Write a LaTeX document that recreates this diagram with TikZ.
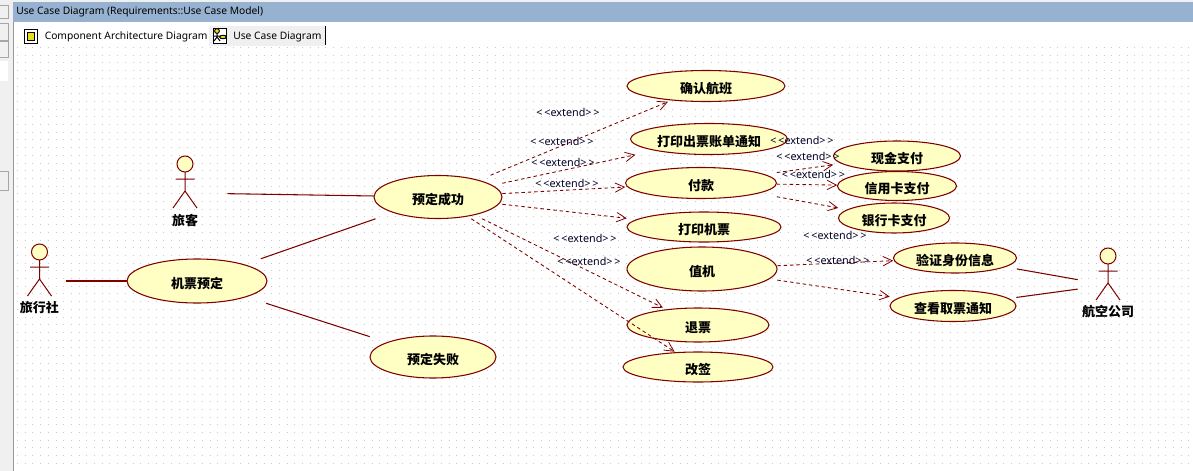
\documentclass[tikz,border=0pt]{standalone}
\usepackage{fontspec}
\setmainfont{Noto Sans}
\newfontfamily\cjk{Noto Sans CJK SC}
\usepackage{tikz}
\usetikzlibrary{shapes.geometric, arrows.meta}
\definecolor{umlred}{HTML}{800000}
\definecolor{umlfill}{HTML}{FFFFC4}
\definecolor{barblue}{HTML}{97B2D0}
\definecolor{chrome}{HTML}{F0F0F0}
\tikzstyle{griddot} = [gray!42,line width=0.75pt,dash pattern=on 0.75pt off 5.03pt]
\tikzstyle{assoc} = [umlred,line width=0.8pt]
\tikzstyle{extendline} = [umlred,line width=0.65pt,dash pattern=on 2.6pt off 2.2pt,-{Straight Barb[length=7pt,width=7pt,line width=0.6pt]}]
\tikzstyle{ucbox} = [inner sep=0pt,text height=10.5pt,text depth=0pt,font=\cjk\bfseries\fontsize{9.75}{10}\selectfont]
\tikzstyle{actorbox} = [inner sep=0pt,minimum height=45pt]
\tikzstyle{actorline} = [umlred,line width=0.75pt]
\tikzstyle{actorname} = [inner sep=0pt,font=\cjk\bfseries\fontsize{9.75}{10}\selectfont]
\tikzstyle{extlabel} = [inner sep=0pt,font=\fontsize{8.1}{10}\selectfont,text=black!85!blue]
\tikzstyle{uitext} = [inner sep=0pt,anchor=west,font=\fontsize{7.7}{10}\selectfont]
\tikzstyle{uibutton} = [draw=gray!70,fill=chrome,line width=0.75pt]
\tikzstyle{iconline} = [black,line width=0.75pt]
% name, centre, width, height, text (sizes in pixels)
\newcommand{\usecase}[5]{
    \draw[umlred,line width=0.8pt,fill=umlfill] (#2) ellipse[x radius=#3*0.375pt,y radius=#4*0.375pt];
    \node[ucbox,minimum width=#3*0.75pt,minimum height=#4*0.75pt] (#1) at (#2) {#5};
}
% name, x, y of the box centre, box width, text
\newcommand{\actor}[5]{
    \node[actorbox,minimum width=#4*0.75pt] (#1) at (#2,#3) {};
    \draw[actorline,fill=umlfill] (#2,#3-29) circle (6pt);
    \draw[actorline] (#2,#3-21) -- (#2,#3-2) (#2-9.5,#3-14) -- (#2+9.5,#3-14)
        (#2-12,#3+15) -- (#2,#3-2) -- (#2+12,#3+15);
    \node[actorname] (#1-name) at (#2,#3+27) {#5};
}
\newcommand{\extendtext}{{<}\,{<}extend{>}\,{>}}
\begin{document}
\begin{tikzpicture}[x=0.75pt,y=-0.75pt]
    \useasboundingbox (0,0) rectangle (1193,471);
    \fill[white] (0,0) rectangle (1193,471);
    % window frame
    \fill[chrome] (0,0) rectangle (13,471);
    \fill[chrome] (13,0) rectangle (1193,2);
    \fill[barblue] (13,2) rectangle (1193,22);
    \draw[gray!80,line width=1pt] (13.5,22) -- (13.5,471);
    \draw[uibutton] (-2,5) rectangle (8,18);
    \draw[uibutton] (-2,23) rectangle (8,40);
    \draw[uibutton] (-2,41) rectangle (8,57);
    \fill[white] (0,61) rectangle (8,81);
    \draw[uibutton] (-2,171) rectangle (8,190);
    \node[uitext] (title) at (16,11.5) {Use Case Diagram (Requirements::Use Case Model)};
    % tabs
    \fill[chrome] (209,26) rectangle (325,46);
    \draw[iconline] (325.5,26) -- (325.5,45);
    \draw[iconline,fill=white] (24,29) rectangle (37,43);
    \draw[iconline,fill=yellow!90!black] (27,32) rectangle (34,40);
    \draw[iconline,fill=white] (213,28) rectangle (226,43);
    \draw[iconline,fill=yellow!90!black] (217,31) circle (1.8pt);
    \draw[iconline] (217,33) -- (217,37) (214,36) -- (220,36) (214,41) -- (217,37) -- (220,41);
    \draw[iconline,fill=yellow!90!black] (223,37) ellipse[x radius=2.5pt,y radius=1.3pt];
    \node[uitext] (tabcomp) at (44.5,37) {Component Architecture Diagram};
    \node[uitext] (tabuse) at (233,37) {Use Case Diagram};
    % grid
    \foreach \y in {0,...,55}
        \draw[griddot] (17,47.5+7.7*\y) -- (1193,47.5+7.7*\y);
    % actors
    \actor{lvke}{185}{193}{84}{旅客}
    \actor{lvxingshe}{39.5}{281}{53}{旅行社}
    \actor{hangkong}{1108}{285}{60}{航空公司}
    % use cases
    \usecase{jipiao}{197,281}{140}{44}{机票预定}
    \usecase{chenggong}{438,197}{128}{43}{预定成功}
    \usecase{shibai}{433,357}{126}{42}{预定失败}
    \usecase{queren}{706,86}{158}{31}{确认航班}
    \usecase{zhangdan}{709,139}{157}{31}{打印出票账单通知}
    \usecase{fukuan}{701,183}{151}{31}{付款}
    \usecase{dayin}{704,227}{154}{30}{打印机票}
    \usecase{zhiji}{702,269}{150}{44}{值机}
    \usecase{tuipiao}{698,325}{142}{34}{退票}
    \usecase{gaiqian}{698,367}{150}{30}{改签}
    \usecase{xianjin}{897,156}{127}{30}{现金支付}
    \usecase{xinyong}{897,186}{119}{29}{信用卡支付}
    \usecase{yinhang}{894,218}{111}{30}{银行卡支付}
    \usecase{yanzheng}{955,258}{123}{30}{验证身份信息}
    \usecase{chakan}{953,306}{126}{31}{查看取票通知}
    % associations
    \draw[assoc] (lvke) -- (chenggong);
    \draw[assoc] (lvxingshe) -- (jipiao);
    \draw[assoc] (jipiao) -- (chenggong);
    \draw[assoc] (jipiao) -- (shibai);
    \draw[assoc] (hangkong) -- (yanzheng);
    \draw[assoc] (hangkong) -- (chakan);
    % extends
    \foreach \a/\b in {chenggong/queren,chenggong/zhangdan,chenggong/fukuan,chenggong/dayin,chenggong/tuipiao,chenggong/gaiqian,fukuan/xianjin,fukuan/xinyong,fukuan/yinhang,zhiji/yanzheng,zhiji/chakan}
        \draw[extendline] (\a) -- (\b);
    % labels
    \foreach \n/\x/\y in {a/568/112,b/562/141,c/563/162,d/567/183,e/802/140,f/808/156,g/813.5/174,h/835/235,i/838/260,j/585/238,k/589/261}
        \node[extlabel] (ext\n) at (\x,\y) {\extendtext};
\end{tikzpicture}
\end{document}
